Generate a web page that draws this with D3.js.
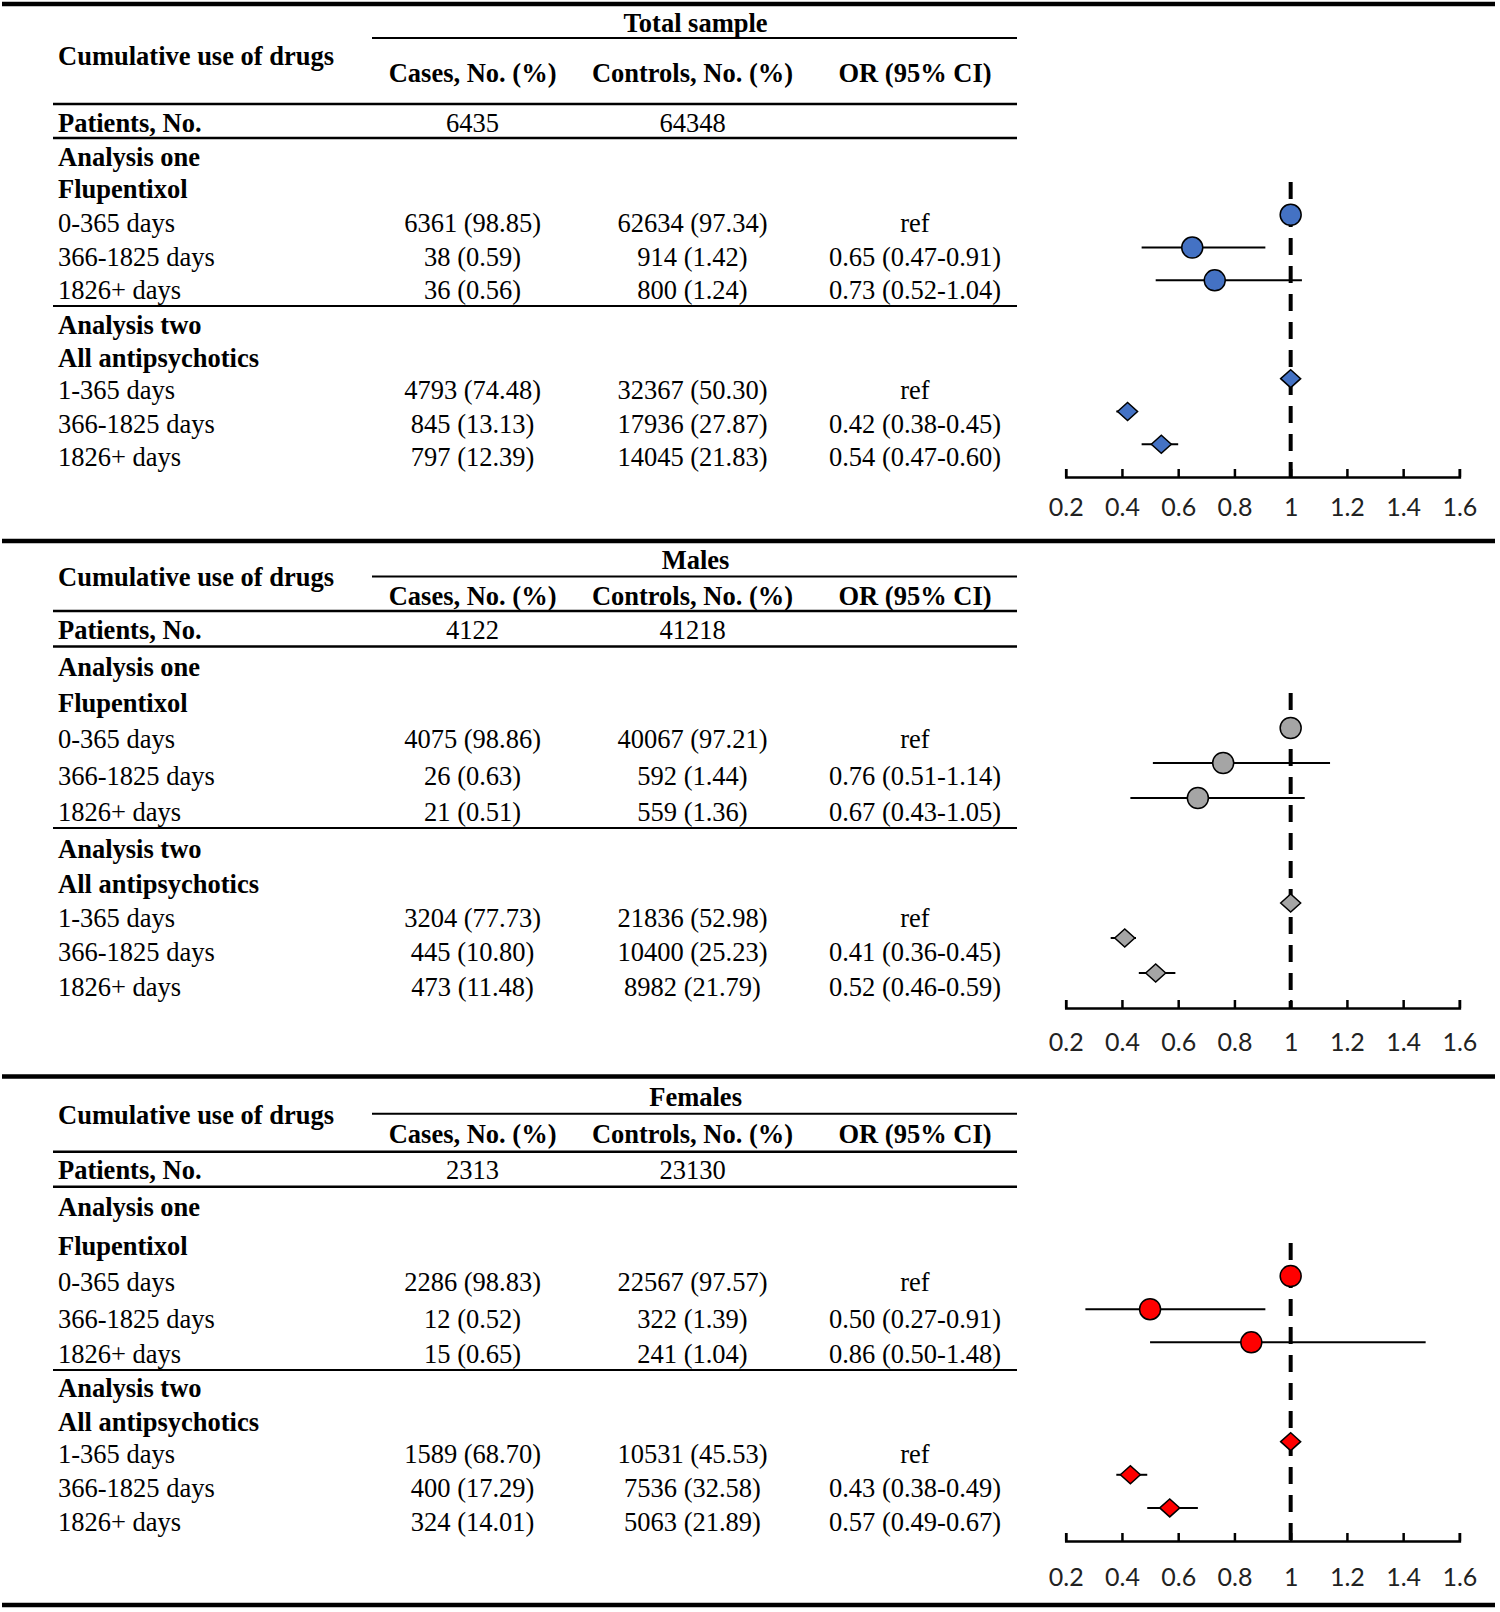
<!DOCTYPE html>
<html>
<head>
<meta charset="utf-8">
<script src="https://cdn.jsdelivr.net/npm/d3@7"></script>
<style>
  body { margin: 0; background: #fff; }
  svg { display: block; }
</style>
</head>
<body>
<div id="graph"></div>
<script>
// ---- data ----
var panelTitles = ["Total sample", "Males", "Females"];
var colHeaders = ["Cases, No. (%)", "Controls, No. (%)", "OR (95% CI)"];
var rowLabels = ["0-365 days", "366-1825 days", "1826+ days", "1-365 days", "366-1825 days", "1826+ days"];
var patientsCases = [6435, 4122, 2313];
var patientsControls = [64348, 41218, 23130];

var casesN = [
    [6361, 38, 36, 4793, 845, 797],
    [4075, 26, 21, 3204, 445, 473],
    [2286, 12, 15, 1589, 400, 324]
];
var casesPct = [
    [98.85, 0.59, 0.56, 74.48, 13.13, 12.39],
    [98.86, 0.63, 0.51, 77.73, 10.80, 11.48],
    [98.83, 0.52, 0.65, 68.70, 17.29, 14.01]
];
var controlsN = [
    [62634, 914, 800, 32367, 17936, 14045],
    [40067, 592, 559, 21836, 10400, 8982],
    [22567, 322, 241, 10531, 7536, 5063]
];
var controlsPct = [
    [97.34, 1.42, 1.24, 50.30, 27.87, 21.83],
    [97.21, 1.44, 1.36, 52.98, 25.23, 21.79],
    [97.57, 1.39, 1.04, 45.53, 32.58, 21.89]
];
var orEst = [
    [1, 0.65, 0.73, 1, 0.42, 0.54],
    [1, 0.76, 0.67, 1, 0.41, 0.52],
    [1, 0.50, 0.86, 1, 0.43, 0.57]
];
var orLow = [
    [null, 0.47, 0.52, null, 0.38, 0.47],
    [null, 0.51, 0.43, null, 0.36, 0.46],
    [null, 0.27, 0.50, null, 0.38, 0.49]
];
var orHigh = [
    [null, 0.91, 1.04, null, 0.45, 0.60],
    [null, 1.14, 1.05, null, 0.45, 0.59],
    [null, 0.91, 1.48, null, 0.49, 0.67]
];
var xTicks = [0.2, 0.4, 0.6, 0.8, 1, 1.2, 1.4, 1.6];

// ---- layout (vertical centres of each text line, per panel) ----
var layout = [
    {title: 22.6, span: 38, cum: 55.5, head: 73, line1: 104, patients: 122.5, line2: 138,
     a1: 157, flu: 189, rows: [223, 257, 290, 390, 424, 457], line3: 306, a2: 324.7, all: 357.5,
     dashTop: 182, axis: 477, tickPad: 21},
    {title: 560, span: 576.5, cum: 576.7, head: 596, line1: 611, patients: 629.5, line2: 646.5,
     a1: 666.5, flu: 702.7, rows: [739, 776, 811.6, 917.5, 952.4, 987.3], line3: 828, a2: 848.6, all: 883.6,
     dashTop: 693, axis: 1008, tickPad: 25},
    {title: 1097.3, span: 1113.7, cum: 1114.7, head: 1134.3, line1: 1151.7, patients: 1170.2, line2: 1186.7,
     a1: 1207.2, flu: 1246.2, rows: [1281.7, 1319.3, 1354, 1454, 1488.3, 1521.7], line3: 1370, a2: 1388, all: 1422,
     dashTop: 1243, axis: 1541, tickPad: 27}
];
var ruleLines = [4, 541, 1076.5, 1605];
var colors = ["#4472C4", "#A5A5A5", "#FF0000"];
var slots = [0, 1, 2, 5, 6, 7];

var W = 1500, H = 1612;
var fs = 26.5;
var leftX = 58, casesX = 472.6, controlsX = 692.5, orX = 915, titleX = 695.6;
var tableL = 53, spanL = 372, tableR = 1017;

var svg = d3.select("#graph").append("svg")
    .attr("width", W)
    .attr("height", H);

var x = d3.scaleLinear().domain([0.2, 1.6]).range([1065.7, 1459.4]);

function addText(px, cy, str, anchor, bold) {
    svg.append("text")
        .attr("x", px)
        .attr("y", cy + fs * 0.34)
        .attr("text-anchor", anchor)
        .style("font-family", "'Liberation Serif', 'Times New Roman', serif")
        .style("font-size", fs + "px")
        .style("font-weight", bold ? "bold" : "normal")
        .style("fill", "#000")
        .text(str);
}

function hline(x1, x2, yy, sw) {
    svg.append("line")
        .attr("x1", x1).attr("x2", x2)
        .attr("y1", yy).attr("y2", yy)
        .style("stroke", "#000")
        .style("stroke-width", sw);
}

// thick rules between panels
ruleLines.forEach(function(yy) { hline(2, 1495, yy, 4.5); });

var fmt2 = function(v) { return v.toFixed(2); };

panelTitles.forEach(function(title, p) {
    var L = layout[p];

    // table header
    addText(titleX, L.title, title, "middle", true);
    hline(spanL, tableR, L.span, 2);
    addText(leftX, L.cum, "Cumulative use of drugs", "start", true);
    addText(casesX, L.head, colHeaders[0], "middle", true);
    addText(controlsX, L.head, colHeaders[1], "middle", true);
    addText(orX, L.head, colHeaders[2], "middle", true);
    hline(tableL, tableR, L.line1, 2.5);

    addText(leftX, L.patients, "Patients, No.", "start", true);
    addText(casesX, L.patients, patientsCases[p], "middle", false);
    addText(controlsX, L.patients, patientsControls[p], "middle", false);
    hline(tableL, tableR, L.line2, 2.5);

    addText(leftX, L.a1, "Analysis one", "start", true);
    addText(leftX, L.flu, "Flupentixol", "start", true);
    hline(tableL, tableR, L.line3, 2);
    addText(leftX, L.a2, "Analysis two", "start", true);
    addText(leftX, L.all, "All antipsychotics", "start", true);

    rowLabels.forEach(function(lab, i) {
        var cy = L.rows[i];
        addText(leftX, cy, lab, "start", false);
        addText(casesX, cy, casesN[p][i] + " (" + fmt2(casesPct[p][i]) + ")", "middle", false);
        addText(controlsX, cy, controlsN[p][i] + " (" + fmt2(controlsPct[p][i]) + ")", "middle", false);
        var orStr = orLow[p][i] == null ? "ref"
            : fmt2(orEst[p][i]) + " (" + fmt2(orLow[p][i]) + "-" + fmt2(orHigh[p][i]) + ")";
        addText(orX, cy, orStr, "middle", false);
    });

    // forest plot
    var y = d3.scaleLinear().domain([-1, 8]).range([L.dashTop, L.axis]);
    var g = svg.append("g");

    var rows = orEst[p].map(function(v, i) {
        return {est: v, lo: orLow[p][i], hi: orHigh[p][i], slot: slots[i], diamond: i >= 3};
    });

    // reference line at OR = 1
    g.append("line")
        .attr("x1", x(1)).attr("x2", x(1))
        .attr("y1", y(-1)).attr("y2", y(8))
        .style("stroke", "#000")
        .style("stroke-width", 4)
        .style("stroke-dasharray", "17,11");

    // confidence intervals
    g.selectAll(".ci")
        .data(rows.filter(function(d) { return d.lo != null; }))
        .enter().append("line")
        .attr("class", "ci")
        .attr("x1", function(d) { return x(d.lo); })
        .attr("x2", function(d) { return x(d.hi); })
        .attr("y1", function(d) { return y(d.slot); })
        .attr("y2", function(d) { return y(d.slot); })
        .style("stroke", "#000")
        .style("stroke-width", 2);

    // circles (analysis one)
    g.selectAll(".dot")
        .data(rows.filter(function(d) { return !d.diamond; }))
        .enter().append("circle")
        .attr("class", "dot")
        .attr("cx", function(d) { return x(d.est); })
        .attr("cy", function(d) { return y(d.slot); })
        .attr("r", 10.5)
        .style("fill", colors[p])
        .style("stroke", "#000")
        .style("stroke-width", 1.5);

    // diamonds (analysis two)
    g.selectAll(".dia")
        .data(rows.filter(function(d) { return d.diamond; }))
        .enter().append("path")
        .attr("class", "dia")
        .attr("d", function(d) {
            var cx = x(d.est), cy = y(d.slot), hw = 10, hh = 9;
            return "M" + (cx - hw) + "," + cy + "L" + cx + "," + (cy - hh) +
                   "L" + (cx + hw) + "," + cy + "L" + cx + "," + (cy + hh) + "Z";
        })
        .style("fill", colors[p])
        .style("stroke", "#000")
        .style("stroke-width", 1.5);

    // x axis
    var xAxis = d3.axisBottom(x)
        .tickValues(xTicks)
        .tickSizeInner(-8)
        .tickSizeOuter(-8)
        .tickPadding(L.tickPad)
        .tickFormat(function(d) { return String(+d.toFixed(1)); });

    var ax = g.append("g")
        .attr("transform", "translate(0," + y(8) + ")")
        .call(xAxis);
    ax.select(".domain").style("stroke", "#000").style("stroke-width", 2.5);
    ax.selectAll(".tick line").style("stroke", "#000").style("stroke-width", 2.5);
    ax.selectAll(".tick text")
        .style("font-family", "Lato, 'Liberation Sans', sans-serif")
        .style("font-size", "25px")
        .style("fill", "#222");
});
</script>
</body>
</html>
